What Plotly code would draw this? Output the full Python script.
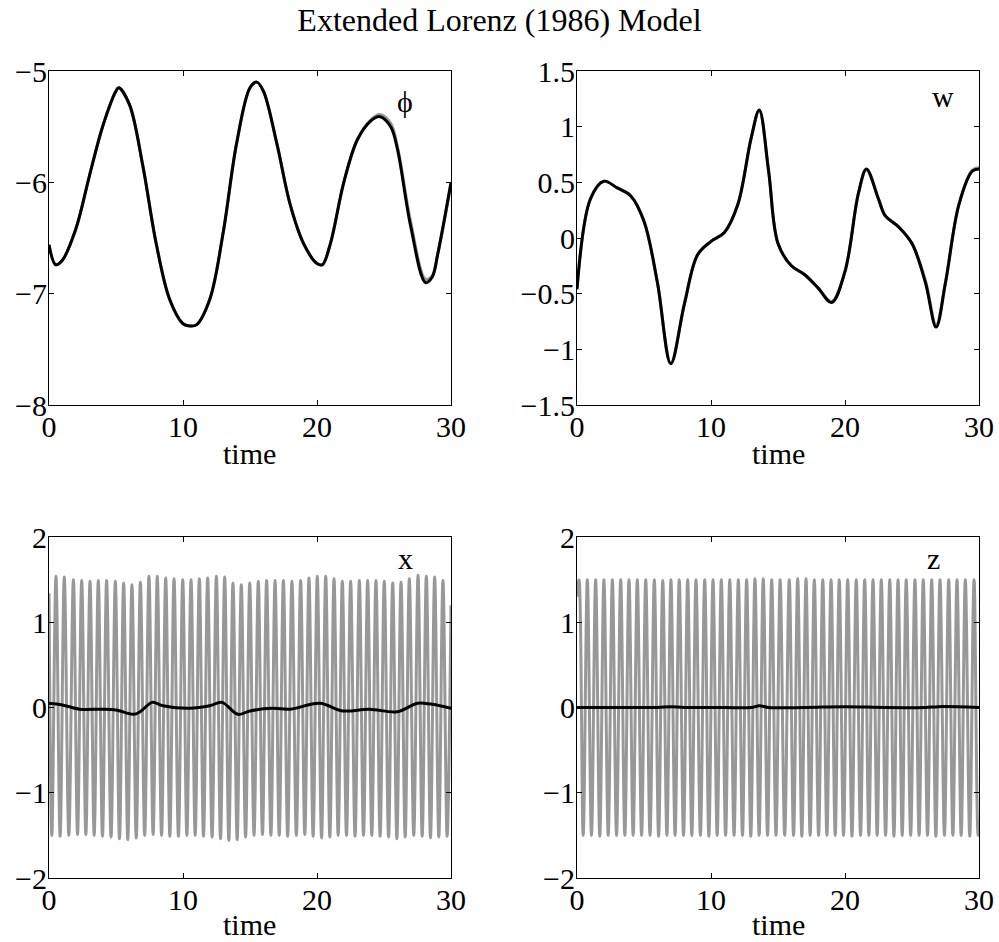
import plotly.graph_objects as go

# ---------------- data ----------------
phi_t = [0, 0.5, 1, 2, 3, 4, 5, 5.2, 6, 7, 8, 9, 10, 10.5, 11, 12, 13, 14, 15, 15.5,
         16, 17, 18, 19, 20, 20.4, 21, 22, 23, 24, 24.7, 25.5, 26, 27, 28.1, 28.6, 29, 30]
phi_black = [-6.56, -6.74, -6.70, -6.42, -5.95, -5.50, -5.18, -5.15, -5.30, -5.85, -6.55, -7.05,
             -7.27, -7.29, -7.28, -7.05, -6.45, -5.65, -5.15, -5.10, -5.18, -5.65, -6.20, -6.55,
             -6.73, -6.74, -6.55, -6.00, -5.62, -5.45, -5.41, -5.50, -5.70, -6.40, -6.90, -6.85,
             -6.65, -6.00]
phi_gray = [-6.56, -6.74, -6.70, -6.42, -5.95, -5.50, -5.18, -5.15, -5.30, -5.85, -6.55, -7.05,
            -7.27, -7.29, -7.28, -7.05, -6.45, -5.65, -5.15, -5.10, -5.18, -5.65, -6.20, -6.55,
            -6.73, -6.74, -6.55, -6.00, -5.62, -5.44, -5.39, -5.47, -5.68, -6.36, -6.87, -6.84,
            -6.65, -6.02]

w_t = [0, 1, 2, 3, 4, 5, 6, 7, 8, 9, 10, 11, 12, 13, 13.6, 14.3, 15, 16, 17, 18, 19, 20,
       21, 21.6, 22.5, 23, 24, 25, 26, 26.8, 27.5, 28.5, 29.5, 30]
w_black = [-0.46, 0.35, 0.51, 0.45, 0.38, 0.15, -0.40, -1.13, -0.60, -0.15, -0.03, 0.05, 0.30,
           0.90, 1.15, 0.60, -0.05, -0.25, -0.33, -0.45, -0.58, -0.30, 0.40, 0.62, 0.35, 0.20,
           0.10, -0.05, -0.40, -0.80, -0.40, 0.30, 0.60, 0.62]
w_gray = [-0.46, 0.35, 0.51, 0.45, 0.38, 0.15, -0.40, -1.12, -0.60, -0.15, -0.03, 0.05, 0.30,
          0.90, 1.14, 0.60, -0.05, -0.25, -0.33, -0.45, -0.57, -0.30, 0.40, 0.61, 0.35, 0.20,
          0.10, -0.05, -0.38, -0.78, -0.40, 0.30, 0.61, 0.63]

x_slow_t = [0, 1, 2.3, 4, 5, 6.3, 6.8, 7.7, 8.5, 10.5, 12, 12.9, 14.1, 15, 16.7, 18, 20.2,
            21.9, 23.9, 26, 27.5, 28.5, 30]
x_slow = [0.05, 0.03, -0.02, -0.02, -0.03, -0.08, -0.05, 0.06, 0.02, -0.01, 0.02, 0.06, -0.08,
          -0.04, -0.01, -0.02, 0.05, -0.04, -0.02, -0.05, 0.05, 0.04, -0.01]

x_start = 1.34
x_end = 1.20
x_peak_t = [0.52, 1.14, 1.82, 2.44, 3.06, 3.68, 4.30, 4.95, 5.57, 6.19, 6.82, 7.46, 8.08, 8.71,
            9.33, 9.98, 10.60, 11.22, 11.84, 12.49, 13.11, 13.73, 14.35, 14.98, 15.62, 16.24,
            16.87, 17.49, 18.13, 18.78, 19.40, 20.02, 20.65, 21.27, 21.89, 22.51, 23.16, 23.78,
            24.40, 25.02, 25.65, 26.27, 26.89, 27.54, 28.16, 28.78, 29.40]
x_peak = [1.54, 1.53, 1.50, 1.49, 1.48, 1.49, 1.49, 1.48, 1.46, 1.44, 1.47, 1.54, 1.54, 1.52,
          1.51, 1.50, 1.50, 1.51, 1.52, 1.54, 1.53, 1.46, 1.44, 1.46, 1.48, 1.49, 1.49, 1.49,
          1.48, 1.49, 1.52, 1.54, 1.54, 1.51, 1.48, 1.48, 1.49, 1.49, 1.49, 1.48, 1.46, 1.47,
          1.51, 1.55, 1.54, 1.53, 1.49]
x_trough_t = [0.21, 0.83, 1.48, 2.13, 2.75, 3.37, 3.99, 4.63, 5.26, 5.88, 6.51, 7.14, 7.77,
              8.40, 9.02, 9.66, 10.29, 10.91, 11.53, 12.17, 12.80, 13.42, 14.04, 14.67, 15.30,
              15.93, 16.56, 17.18, 17.81, 18.46, 19.09, 19.71, 20.34, 20.96, 21.58, 22.20,
              22.84, 23.47, 24.09, 24.71, 25.34, 25.96, 26.58, 27.22, 27.85, 28.47, 29.09, 29.71]
x_trough = [-1.50, -1.51, -1.50, -1.49, -1.49, -1.50, -1.51, -1.52, -1.54, -1.55,
            -1.53, -1.50, -1.49, -1.50, -1.51, -1.51, -1.50, -1.50, -1.51, -1.52,
            -1.54, -1.56, -1.55, -1.52, -1.50, -1.49, -1.50, -1.50, -1.51, -1.50,
            -1.49, -1.51, -1.53, -1.52, -1.50, -1.50, -1.51, -1.50, -1.50, -1.51,
            -1.52, -1.54, -1.52, -1.50, -1.51, -1.53, -1.52, -1.51]

z_slow_t = [0, 3, 6, 7, 8, 11, 13, 13.6, 14.3, 17, 20, 23, 26, 27, 30]
z_slow = [0.0, 0.0, 0.0, 0.01, 0.0, 0.0, 0.0, 0.02, 0.0, 0.0, 0.01, 0.0, 0.0, 0.01, 0.0]

z_start = 1.30
z_end = -1.45
z_peak_t = [0.15, 0.77, 1.39, 2.01, 2.64, 3.26, 3.88, 4.50, 5.13, 5.77, 6.40, 7.01, 7.63, 8.26,
            8.88, 9.53, 10.15, 10.77, 11.40, 12.04, 12.66, 13.28, 13.90, 14.53, 15.16, 15.84,
            16.47, 17.09, 17.71, 18.34, 18.96, 19.57, 20.20, 20.84, 21.47, 22.09, 22.71, 23.34,
            23.96, 24.57, 25.22, 25.84, 26.47, 27.09, 27.74, 28.36, 28.98, 29.63]
z_peak = [1.50, 1.50, 1.50, 1.50, 1.50, 1.50, 1.50, 1.50, 1.50, 1.50, 1.49, 1.50, 1.50, 1.50,
          1.50, 1.50, 1.50, 1.50, 1.50, 1.50, 1.50, 1.51, 1.51, 1.50, 1.50, 1.50, 1.51, 1.51,
          1.50, 1.50, 1.50, 1.50, 1.50, 1.50, 1.50, 1.50, 1.50, 1.50, 1.50, 1.50, 1.50, 1.50,
          1.50, 1.50, 1.50, 1.50, 1.50, 1.50]
z_trough_t = [0.46, 1.08, 1.70, 2.33, 2.95, 3.57, 4.19, 4.82, 5.45, 6.09, 6.71, 7.32, 7.95,
              8.57, 9.21, 9.84, 10.46, 11.09, 11.72, 12.35, 12.97, 13.59, 14.22, 14.85, 15.50,
              16.16, 16.78, 17.40, 18.03, 18.65, 19.27, 19.89, 20.52, 21.16, 21.78, 22.40,
              23.03, 23.65, 24.27, 24.90, 25.53, 26.16, 26.78, 27.42, 28.05, 28.67, 29.31, 29.94]
z_trough = [-1.50, -1.50, -1.51, -1.50, -1.50, -1.50, -1.50, -1.50, -1.50, -1.51,
            -1.50, -1.50, -1.50, -1.50, -1.50, -1.51, -1.50, -1.50, -1.50, -1.50,
            -1.51, -1.50, -1.50, -1.50, -1.50, -1.50, -1.51, -1.50, -1.50, -1.50,
            -1.50, -1.50, -1.51, -1.50, -1.50, -1.50, -1.50, -1.51, -1.50, -1.50,
            -1.50, -1.50, -1.51, -1.50, -1.50, -1.50, -1.51, -1.50]

title_text = "Extended Lorenz (1986) Model"
xlabel_text = "time"
x_ticks = [0, 10, 20, 30]
phi_ticks = [-8, -7, -6, -5]
w_ticks = [-1.5, -1, -0.5, 0, 0.5, 1, 1.5]
xz_ticks = [-2, -1, 0, 1, 2]


def interleave(start, tr_t, tr_v, pk_t, pk_v, end):
    pts = [(0.0, start), (30.0, end)]
    pts += list(zip(tr_t, tr_v)) + list(zip(pk_t, pk_v))
    pts.sort(key=lambda p: p[0])
    return [p[0] for p in pts], [p[1] for p in pts]


xg_t, xg_v = interleave(x_start, x_trough_t, x_trough, x_peak_t, x_peak, x_end)
zg_t, zg_v = interleave(z_start, z_trough_t, z_trough, z_peak_t, z_peak, z_end)

GRAY = "#989898"
BLACK = "#000000"
FONT = "Liberation Serif"
LW = 3

fig = go.Figure()


def add(tt, vv, color, xa, ya, shape="spline"):
    fig.add_trace(go.Scatter(x=tt, y=vv, mode="lines", xaxis=xa, yaxis=ya,
                             line=dict(color=color, width=LW, shape=shape, smoothing=1.0),
                             showlegend=False, hoverinfo="skip"))


add(phi_t, phi_gray, GRAY, "x", "y")
add(phi_t, phi_black, BLACK, "x", "y")
add(w_t, w_gray, GRAY, "x2", "y2")
add(w_t, w_black, BLACK, "x2", "y2")
add(xg_t, xg_v, GRAY, "x3", "y3")
add(x_slow_t, x_slow, BLACK, "x3", "y3")
add(zg_t, zg_v, GRAY, "x4", "y4")
add(z_slow_t, z_slow, BLACK, "x4", "y4")

W, H = 999, 942
L_dom = [49 / W, 451 / W]
R_dom = [577 / W, 979 / W]
T_dom = [1 - 405 / H, 1 - 71 / H]
B_dom = [1 - 878 / H, 1 - 537 / H]

tickfont = dict(family=FONT, size=30, color="black")


def xax(dom, anchor):
    return dict(domain=dom, anchor=anchor, range=[0, 30], tickvals=x_ticks,
                ticks="inside", ticklen=5, tickcolor="black", tickwidth=1,
                showline=True, linecolor="black", linewidth=1, mirror="ticks",
                showgrid=False, zeroline=False, tickfont=tickfont, automargin=False,
                ticklabelstandoff=-5)


def yax(dom, anchor, rng, tv):
    return dict(domain=dom, anchor=anchor, range=rng, tickvals=tv,
                ticks="inside", ticklen=5, tickcolor="black", tickwidth=1,
                showline=True, linecolor="black", linewidth=1, mirror="ticks",
                showgrid=False, zeroline=False, tickfont=tickfont, automargin=False,
                ticklabelstandoff=-5)


fig.update_layout(
    width=W, height=H,
    margin=dict(l=0, r=0, t=0, b=0, autoexpand=False),
    paper_bgcolor="white", plot_bgcolor="white",
    xaxis=xax(L_dom, "y"), yaxis=yax(T_dom, "x", [-8, -5], phi_ticks),
    xaxis2=xax(R_dom, "y2"), yaxis2=yax(T_dom, "x2", [-1.5, 1.5], w_ticks),
    xaxis3=xax(L_dom, "y3"), yaxis3=yax(B_dom, "x3", [-2, 2], xz_ticks),
    xaxis4=xax(R_dom, "y4"), yaxis4=yax(B_dom, "x4", [-2, 2], xz_ticks),
    title=dict(text=title_text, x=0.5, xanchor="center", y=1 - 20 / H, yanchor="middle",
               font=dict(family=FONT, size=32, color="black")),
)

labfont = dict(family=FONT, size=30, color="black")
for txt, xa, ya, xv, yv in [("ϕ", "x", "y", 26.6, -5.27), ("w", "x2", "y2", 27.3, 1.27),
                            ("x", "x3", "y3", 26.6, 1.75), ("z", "x4", "y4", 26.6, 1.75)]:
    fig.add_annotation(text=txt, xref=xa, yref=ya, x=xv, y=yv, showarrow=False, font=labfont)

# "time" labels under each panel
for dom, ypix, anc in [(L_dom, 453, "middle"), (R_dom, 453, "middle"),
                       (L_dom, 942, "bottom"), (R_dom, 942, "bottom")]:
    fig.add_annotation(text=xlabel_text, xref="paper", yref="paper",
                       x=(dom[0] + dom[1]) / 2, y=1 - ypix / H, xanchor="center",
                       yanchor=anc, showarrow=False, font=labfont, borderpad=0)

fig.write_html("out.html")
